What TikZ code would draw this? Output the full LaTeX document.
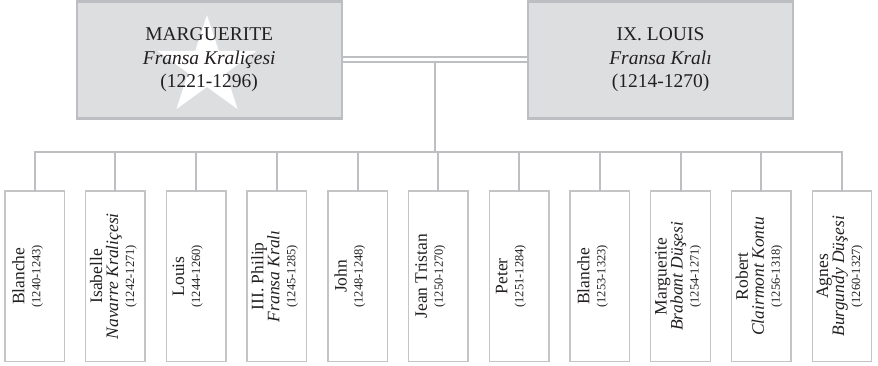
\documentclass[tikz,border=0pt]{standalone}
\usepackage{fontspec}
\setmainfont{Liberation Serif}
\usetikzlibrary{calc}
\definecolor{boxfill}{RGB}{221,222,224}
\definecolor{boxline}{RGB}{189,190,193}
\definecolor{connline}{RGB}{190,191,194}
\definecolor{kidline}{RGB}{196,196,198}
\definecolor{inkc}{RGB}{35,31,32}
\newcommand\nmf{\fontsize{17.5}{16}\selectfont}
\newcommand\dtf{\fontsize{12.5}{16}\selectfont}
\newcommand\pf{\fontsize{19.5}{23.5}\selectfont}
\begin{document}
\begin{tikzpicture}[x=1pt,y=-1pt,
  parentbox/.style={draw=boxline, fill=boxfill, line width=2.4pt, minimum width=265pt, minimum height=117pt, inner sep=0pt, outer sep=0pt},
  parenttext/.style={align=center, font=\pf, text=inkc, inner sep=0pt},
  kidbox/.style={draw=kidline, line width=1.4pt, minimum width=59.5pt, minimum height=170.7pt, inner sep=0pt, outer sep=0pt},
  kidtext/.style={rotate=90, anchor=north, align=center, font=\nmf, text=inkc, inner sep=0pt},
  conn/.style={draw=connline, line width=2pt, line cap=rect},
]
\useasboundingbox (0,0) rectangle (878,366);
% parents
\node[parentbox] (mar) at (209.2,60) {};
\node[parentbox] (lou) at (660.5,60) {};
\coordinate (sc) at (207,67);
\fill[white] ($(sc)+(90:52pt)$) -- ($(sc)+(126:20pt)$) -- ($(sc)+(162:52pt)$) -- ($(sc)+(198:20pt)$) -- ($(sc)+(234:52pt)$) -- ($(sc)+(270:20pt)$) -- ($(sc)+(306:52pt)$) -- ($(sc)+(342:20pt)$) -- ($(sc)+(18:52pt)$) -- ($(sc)+(54:20pt)$) -- cycle;
\node[parenttext] (mart) at (mar.center) {MARGUERITE\\\textit{Fransa Kraliçesi}\\(1221-1296)};
\node[parenttext] (lout) at (lou.center) {IX. LOUIS\\\textit{Fransa Kralı}\\(1214-1270)};
% children boxes
\foreach \i in {1,...,11} \node[kidbox] (c\i) at ({34.7+(\i-1)*80.73},276.3) {};
% children texts
\node[kidtext] (t1) at ([xshift=7pt]c1.west) {Blanche\\{\dtf(1240-1243)}};
\node[kidtext] (t2) at ([xshift=4pt]c2.west) {Isabelle\\\textit{Navarre Kraliçesi}\\{\dtf(1242-1271)}};
\node[kidtext] (t3) at ([xshift=6pt]c3.west) {Louis\\{\dtf(1244-1260)}};
\node[kidtext] (t4) at ([xshift=4pt]c4.west) {III. Philip\\\textit{Fransa Kralı}\\{\dtf(1245-1285)}};
\node[kidtext] (t5) at ([xshift=6.5pt]c5.west) {John\\{\dtf(1248-1248)}};
\node[kidtext] (t6) at ([xshift=6.5pt]c6.west) {Jean Tristan\\{\dtf(1250-1270)}};
\node[kidtext] (t7) at ([xshift=6.5pt]c7.west) {Peter\\{\dtf(1251-1284)}};
\node[kidtext] (t8) at ([xshift=7pt]c8.west) {Blanche\\{\dtf(1253-1323)}};
\node[kidtext] (t9) at ([xshift=4pt]c9.west) {Marguerite\\\textit{Brabant Düşesi}\\{\dtf(1254-1271)}};
\node[kidtext] (t10) at ([xshift=4pt]c10.west) {Robert\\\textit{Clairmont Kontu}\\{\dtf(1256-1318)}};
\node[kidtext] (t11) at ([xshift=4pt]c11.west) {Agnes\\\textit{Burgundy Düşesi}\\{\dtf(1260-1327)}};
% connectors
\draw[conn, line cap=butt] ([yshift=3pt]mar.east) -- ([yshift=3pt]lou.west);
\draw[conn, line cap=butt] ([yshift=-2.5pt]mar.east) -- ([yshift=-2.5pt]lou.west);
\coordinate (dl) at (435,62.5);
\coordinate (bus) at (435,152.3);
\draw[conn] (dl) -- (bus);
\draw[conn] (c1.north |- bus) -- (c11.north |- bus);
\foreach \i in {1,...,11} \draw[conn] (c\i.north) -- (c\i.north |- bus);
\end{tikzpicture}
\end{document}
